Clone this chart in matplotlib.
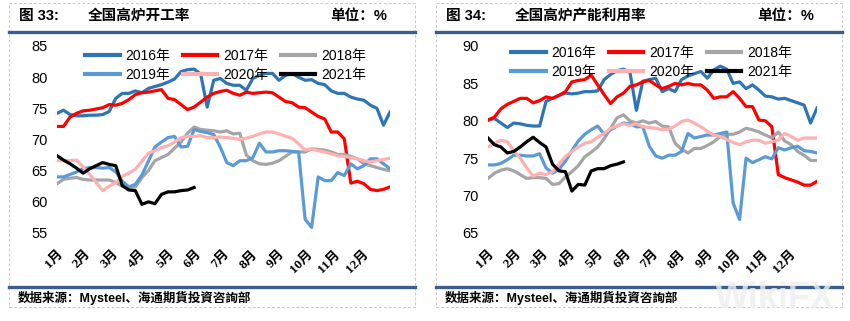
import numpy as np
import matplotlib.pyplot as plt
from matplotlib.lines import Line2D
from matplotlib.patches import Rectangle

plt.rcParams['font.family'] = ['Liberation Sans', 'Noto Sans CJK SC']

years = ['2016年', '2017年', '2018年', '2019年', '2020年', '2021年']
colors = ['#2E75B6', '#FF0000', '#A5A5A5', '#5B9BD5', '#FFB0B0', '#000000']
months = ['%d月' % m for m in range(1, 13)]

# 图33 全国高炉开工率, weekly values
kg_2016 = [74.2, 74.7, 74.0, 73.8, 73.8, 73.9, 73.9, 74.0, 74.5, 76.6, 77.4, 77.4, 77.8,
           77.5, 78.2, 78.5, 78.8, 79.2, 79.7, 80.9, 81.2, 81.3, 80.5, 75.2, 79.5, 79.8,
           79.0, 78.7, 78.7, 77.9, 79.8, 80.3, 80.6, 80.6, 79.5, 80.3, 80.6, 80.0, 79.5,
           79.6, 79.0, 78.8, 77.8, 77.4, 77.4, 76.8, 76.5, 76.3, 75.5, 75.0, 72.3, 74.4]
kg_2017 = [72.1, 72.1, 73.6, 74.2, 74.6, 74.7, 74.9, 75.1, 75.6, 75.5, 75.8, 76.4, 77.2,
           77.5, 77.6, 77.8, 78.0, 76.6, 76.4, 75.6, 74.8, 75.2, 76.0, 76.8, 77.4, 77.7,
           77.9, 77.4, 77.1, 77.6, 77.4, 77.5, 77.6, 77.5, 76.8, 76.1, 75.9, 75.2, 75.1,
           74.4, 73.7, 73.3, 71.2, 71.2, 70.1, 63.0, 63.3, 62.9, 62.0, 61.8, 62.0, 62.4]
kg_2018 = [62.9, 63.6, 63.8, 63.9, 63.6, 63.5, 63.5, 63.5, 63.5, 63.1, 62.5, 62.3, 62.4,
           63.9, 65.0, 66.6, 67.1, 67.6, 68.6, 69.6, 71.0, 72.0, 71.6, 71.5, 71.4, 71.2,
           71.4, 70.9, 71.0, 67.5, 66.6, 66.1, 66.0, 66.2, 66.6, 67.3, 68.0, 68.0, 68.0,
           68.5, 68.4, 68.3, 68.0, 67.6, 67.6, 67.3, 66.9, 66.1, 65.8, 65.5, 65.2, 65.0]
kg_2019 = [64.0, 64.0, 64.4, 64.8, 65.3, 65.5, 65.5, 65.4, 65.5, 64.8, 63.3, 62.4, 62.8,
           64.3, 66.5, 68.8, 69.6, 70.3, 70.5, 68.8, 68.9, 71.6, 71.3, 71.1, 70.8, 68.8,
           66.3, 65.8, 66.6, 66.6, 67.1, 69.4, 68.0, 68.0, 68.2, 68.2, 68.1, 68.0, 57.2,
           55.9, 64.0, 63.4, 63.4, 64.7, 64.2, 66.1, 65.3, 65.8, 66.9, 66.9, 66.1, 65.3]
kg_2020 = [66.6, 66.6, 66.6, 66.7, 65.6, 64.4, 63.1, 61.8, 62.5, 63.1, 64.1, 64.6, 65.2,
           66.5, 67.8, 68.2, 68.7, 69.0, 69.6, 70.3, 70.5, 70.5, 70.6, 70.3, 70.3, 70.4,
           70.3, 70.2, 70.0, 70.2, 70.5, 70.9, 71.2, 71.2, 70.9, 70.5, 70.2, 69.3, 68.3,
           68.5, 68.2, 68.0, 67.7, 67.4, 67.3, 67.1, 66.9, 66.6, 66.4, 66.6, 66.8, 67.0]
kg_2021 = [67.4, 66.7, 66.1, 65.4, 64.6, 65.3, 65.8, 66.3, 66.0, 65.8, 62.6, 61.9, 61.8,
           59.6, 60.0, 59.7, 61.2, 61.6, 61.6, 61.8, 61.9, 62.3]

# 图34 全国高炉产能利用率
cn_2016 = [80.1, 80.3, 79.7, 79.1, 79.7, 79.6, 79.4, 79.3, 79.3, 82.6, 83.0, 83.4, 83.7,
           83.6, 83.7, 83.9, 83.9, 84.0, 85.5, 86.2, 86.7, 86.9, 86.5, 81.4, 85.3, 85.5,
           85.7, 83.9, 84.3, 83.9, 85.5, 86.0, 86.3, 86.6, 85.7, 86.8, 87.3, 86.9, 85.0,
           85.2, 84.3, 84.8, 84.1, 83.3, 83.2, 82.9, 83.0, 82.7, 82.4, 82.1, 79.7, 81.7]
cn_2017 = [80.1, 80.5, 81.6, 82.2, 82.6, 83.0, 83.0, 82.4, 82.7, 83.2, 83.0, 83.4, 83.9,
           85.2, 85.4, 85.5, 86.1, 84.8, 83.5, 82.3, 83.2, 83.7, 84.6, 84.8, 85.2, 85.4,
           84.8, 84.3, 84.6, 85.0, 84.8, 85.0, 84.8, 84.8, 84.1, 83.0, 83.2, 83.2, 83.9,
           83.0, 81.9, 81.9, 80.1, 80.0, 79.2, 72.8, 72.4, 72.1, 71.8, 71.4, 71.4, 71.9]
cn_2018 = [72.3, 73.0, 73.4, 73.6, 73.3, 72.8, 72.3, 72.4, 72.4, 72.3, 71.5, 71.6, 72.5,
           73.2, 74.0, 75.2, 75.8, 76.5, 77.6, 79.0, 80.4, 80.8, 80.0, 79.7, 80.0, 79.7,
           79.9, 79.3, 79.2, 77.0, 76.2, 75.7, 76.3, 76.3, 76.7, 77.2, 77.9, 78.2, 78.2,
           78.5, 79.0, 78.8, 78.5, 78.1, 77.7, 78.5, 77.3, 76.8, 75.9, 75.4, 74.7, 74.7]
cn_2019 = [74.1, 74.1, 74.3, 74.8, 75.4, 75.4, 75.3, 75.3, 75.6, 73.7, 73.0, 73.5, 74.6,
           76.0, 77.3, 78.2, 78.8, 79.3, 78.2, 78.8, 79.3, 79.7, 79.6, 79.2, 79.2, 76.6,
           75.3, 75.0, 75.4, 75.4, 75.9, 78.3, 77.7, 77.9, 78.1, 78.1, 78.3, 78.5, 69.0,
           66.8, 75.0, 74.4, 74.8, 75.2, 74.9, 76.4, 76.1, 76.4, 76.6, 76.0, 75.9, 75.7]
cn_2020 = [76.5, 77.0, 77.4, 77.2, 76.0, 75.0, 73.7, 72.6, 73.0, 72.8, 73.2, 74.2, 75.2,
           75.9, 76.5, 77.0, 77.2, 77.8, 78.3, 79.0, 79.3, 79.6, 79.4, 79.6, 79.2, 79.1,
           79.0, 78.8, 78.9, 79.3, 79.9, 80.1, 79.7, 79.2, 78.6, 78.1, 77.9, 77.5, 77.1,
           76.8, 77.2, 77.4, 77.4, 77.0, 77.2, 77.4, 78.3, 77.9, 77.4, 77.7, 77.7, 77.7]
cn_2021 = [77.7, 76.8, 76.5, 75.7, 75.9, 76.5, 77.2, 77.8, 77.1, 76.5, 74.2, 73.3, 73.2,
           70.6, 71.5, 71.4, 73.3, 73.6, 73.6, 74.0, 74.2, 74.5]

W, H = 850, 321
fig = plt.figure(figsize=(W / 100, H / 100), dpi=100)
rule_color = '#3A5F8F'


def fx(px):
    return px / W


def fy(py):
    return 1 - py / H


def hline(x0, x1, y, **kw):
    fig.add_artist(Line2D([fx(x0), fx(x1)], [fy(y), fy(y)], transform=fig.transFigure, **kw))


def draw_panel(box, plot_x, legend_xy, num, title, series, ylim, yticks):
    bx0, bx1 = box
    # dashed outer frame
    fig.add_artist(Rectangle((fx(bx0), fy(307)), fx(bx1 - bx0), (307 - 3) / H,
                             transform=fig.transFigure, fill=False, ec='#C8C8C8',
                             ls=(0, (3, 2)), lw=0.7))
    hline(bx0, bx1, 32, color=rule_color, lw=2.4)
    hline(bx0, bx1, 287, color=rule_color, lw=2.4)

    fig.text(fx(bx0 + 10), fy(16), num, fontsize=10.5, fontweight='bold', va='center')
    fig.text(fx(bx0 + 79), fy(16), title, fontsize=10.5, fontweight='bold', va='center')
    fig.text(fx(bx0 + 321), fy(16), '单位：%', fontsize=10.5, fontweight='bold', va='center')
    fig.text(fx(bx0 + 9), fy(298), '数据来源：Mysteel、海通期貨投資咨詢部',
             fontsize=9, fontweight='bold', va='center')

    ax = fig.add_axes([fx(plot_x[0]), fy(233), fx(plot_x[1] - plot_x[0]), (233 - 46) / H])
    lines = []
    for label, vals, c in zip(years, series, colors):
        ln, = ax.plot(np.arange(len(vals)), vals, color=c, lw=2.3, label=label)
        lines.append(ln)
    ax.set_xlim(0, 51)
    ax.set_ylim(*ylim)
    ax.set_yticks(yticks)
    ax.set_yticklabels([str(v) for v in yticks], fontsize=10.5)
    ax.set_xticks(np.arange(12) * 51 / 12)
    ax.set_xticklabels(months, rotation=45, ha='right', rotation_mode='anchor',
                       fontsize=9.5, fontweight='bold',
                       family=['Liberation Serif', 'Noto Sans CJK SC'])
    ax.tick_params(length=0)
    ax.tick_params(axis='y', pad=7)
    ax.tick_params(axis='x', pad=11)
    for s in ax.spines.values():
        s.set_visible(False)
    ax.patch.set_alpha(0)

    # legend fills column by column, so reorder to read 2016 2017 2018 / 2019 2020 2021
    order = [0, 3, 1, 4, 2, 5]
    leg = ax.legend([lines[i] for i in order], [years[i] for i in order],
                    ncol=3, loc='upper left', frameon=False,
                    bbox_to_anchor=(fx(legend_xy[0]), fy(legend_xy[1])),
                    bbox_transform=fig.transFigure, borderaxespad=0, borderpad=0,
                    handlelength=2.5, handletextpad=0.4, columnspacing=0.9,
                    labelspacing=0.35, prop={'size': 10})
    for ln in leg.get_lines():
        ln.set_linewidth(3)
    return ax


draw_panel((9, 415), (57, 390), (85, 49), '图 33:', '全国高炉开工率',
           [kg_2016, kg_2017, kg_2018, kg_2019, kg_2020, kg_2021],
           (55, 85), [55, 60, 65, 70, 75, 80, 85])
draw_panel((436, 842), (488, 817), (511, 46), '图 34:', '全国高炉产能利用率',
           [cn_2016, cn_2017, cn_2018, cn_2019, cn_2020, cn_2021],
           (65, 90), [65, 70, 75, 80, 85, 90])

fig.text(fx(775), fy(298), 'WikiFX', fontsize=26, fontweight='bold', color='#EEEEEE',
         alpha=0.8, ha='center', va='center')

fig.savefig('out.png', dpi=100)
